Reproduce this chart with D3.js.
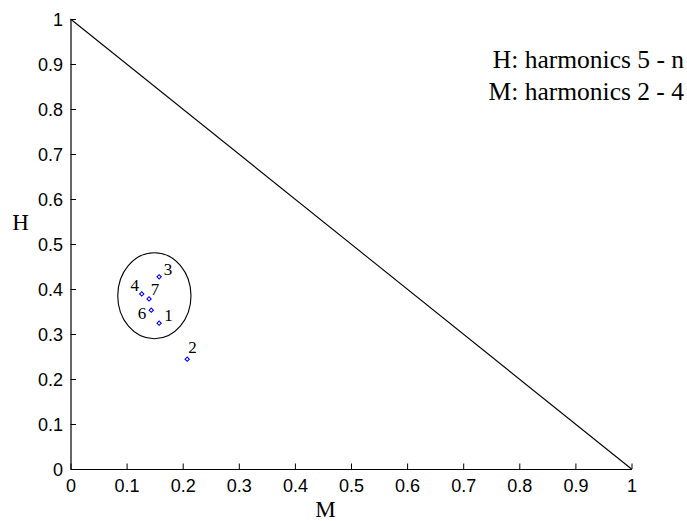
<!DOCTYPE html>
<html>
<head>
<meta charset="utf-8">
<script src="https://cdn.jsdelivr.net/npm/d3@7"></script>
<style>
  html, body { margin: 0; padding: 0; background: #fff; }
  svg { display: block; }
</style>
</head>
<body>
<svg id="chart" width="687" height="521"></svg>
<script>
// ---- data ----
const pointIds = ["1", "2", "3", "4", "6", "7"];
const pointM   = [0.158, 0.208, 0.158, 0.127, 0.144, 0.140];
const pointH   = [0.324, 0.244, 0.427, 0.389, 0.353, 0.378];
// label anchor (data coords, left / baseline)
const labelM   = [0.167, 0.210, 0.166, 0.107, 0.120, 0.143];
const labelH   = [0.329, 0.258, 0.431, 0.396, 0.333, 0.387];
// encircling ellipse (data coords)
const ellipseCenter = [0.1495, 0.385];
const ellipseRadii  = [0.0653, 0.0956];
// boundary line M + H = 1
const boundaryM = [0, 1];
const boundaryH = [1, 0];
const tickValues = [0, 0.1, 0.2, 0.3, 0.4, 0.5, 0.6, 0.7, 0.8, 0.9, 1];
const tickLabels = ["0", "0.1", "0.2", "0.3", "0.4", "0.5", "0.6", "0.7", "0.8", "0.9", "1"];
const legendLines = ["H: harmonics 5 - n", "M: harmonics 2 - 4"];
const xLabel = "M";
const yLabel = "H";

// ---- layout ----
const svg = d3.select("#chart");
const x = d3.scaleLinear().domain([0, 1]).range([70.5, 631.5]);
const y = d3.scaleLinear().domain([0, 1]).range([469, 19]);
const sans = "'Liberation Sans', Arial, Helvetica, sans-serif";
const serif = "'Liberation Serif', 'Times New Roman', Times, serif";

// axes
const fmt = v => tickLabels[tickValues.indexOf(v)];
const xAxis = d3.axisBottom(x).tickValues(tickValues).tickFormat(fmt).tickSizeInner(-5.5).tickSizeOuter(0).tickPadding(10);
const yAxis = d3.axisLeft(y).tickValues(tickValues).tickFormat(fmt).tickSizeInner(-5.5).tickSizeOuter(0).tickPadding(8);

const gx = svg.append("g").attr("transform", `translate(0,${y(0)})`).call(xAxis);
const gy = svg.append("g").attr("transform", `translate(${x(0)},0)`).call(yAxis);
[gx, gy].forEach(g => {
  g.selectAll("path.domain").attr("stroke", "#000").attr("stroke-width", 1.2);
  g.selectAll(".tick line").attr("stroke", "#000").attr("stroke-width", 1);
  g.selectAll(".tick text").attr("fill", "#000").style("font-family", sans).style("font-size", "18px");
});
gx.selectAll(".tick text").attr("dy", "0.71em").attr("y", 10.5);
gy.selectAll(".tick text").attr("x", -7.5).attr("dy", "0.35em");

// boundary line
svg.append("line")
  .attr("x1", x(boundaryM[0])).attr("y1", y(boundaryH[0]))
  .attr("x2", x(boundaryM[1])).attr("y2", y(boundaryH[1]))
  .attr("stroke", "#000").attr("stroke-width", 1.1);

// ellipse
svg.append("ellipse")
  .attr("cx", x(ellipseCenter[0])).attr("cy", y(ellipseCenter[1]))
  .attr("rx", x(ellipseRadii[0]) - x(0)).attr("ry", y(0) - y(ellipseRadii[1]))
  .attr("fill", "none").attr("stroke", "#000").attr("stroke-width", 1.1);

// points
const pts = pointIds.map((id, i) => ({ id, m: pointM[i], h: pointH[i], lm: labelM[i], lh: labelH[i] }));
svg.append("g").selectAll("path").data(pts).join("path")
  .attr("d", d3.symbol().type(d3.symbolSquare).size(9))
  .attr("transform", d => `translate(${x(d.m)},${y(d.h)}) rotate(45)`)
  .attr("fill", "#fff").attr("stroke", "#0000ff").attr("stroke-width", 1.1);

svg.append("g").selectAll("text").data(pts).join("text")
  .attr("x", d => x(d.lm)).attr("y", d => y(d.lh))
  .attr("text-anchor", "start")
  .style("font-family", serif).style("font-size", "17px").attr("fill", "#000")
  .text(d => d.id);

// legend text
svg.append("g").selectAll("text").data(legendLines).join("text")
  .attr("x", 684).attr("y", (d, i) => 67.5 + i * 32.5)
  .attr("text-anchor", "end")
  .style("font-family", serif).style("font-size", "25.5px").attr("fill", "#000")
  .text(d => d);

// axis labels
svg.append("text").attr("x", 325.5).attr("y", 517).attr("text-anchor", "middle")
  .style("font-family", serif).style("font-size", "23px").attr("fill", "#000").text(xLabel);
svg.append("text").attr("x", 20.5).attr("y", 230).attr("text-anchor", "middle")
  .style("font-family", serif).style("font-size", "23px").attr("fill", "#000").text(yLabel);
</script>
</body>
</html>
